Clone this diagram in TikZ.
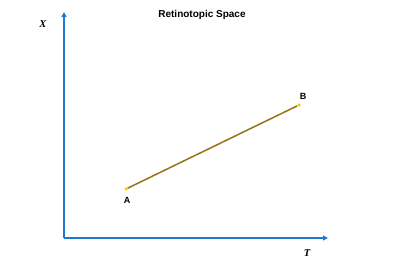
\documentclass[tikz,border=0pt]{standalone}
\usepackage{fontspec}
\setmainfont{Liberation Sans}
\newfontfamily\serifit{Liberation Serif}
\usetikzlibrary{arrows.meta}
\definecolor{axisblue}{RGB}{31,120,206}
\definecolor{lineolive}{RGB}{150,115,20}
\definecolor{dotyellow}{RGB}{255,192,0}
\begin{document}
\begin{tikzpicture}[x=1pt,y=-1pt,
  axis/.style={draw=axisblue,line width=2pt,-{Triangle[length=5pt,width=5pt]}},
  ptlabel/.style={font=\bfseries\fontsize{9}{10}\selectfont},
  axlabel/.style={font=\serifit\bfseries\itshape\fontsize{10.5}{12}\selectfont},
  dotc/.style={circle,fill=dotyellow,inner sep=0pt,minimum size=3.5pt}]
\useasboundingbox (0,0) rectangle (404,270);
\coordinate (O) at (64,238);
\coordinate (Ytop) at (64,12);
\coordinate (Xend) at (328,238);
\draw[axis] (O) -- (Ytop);
\draw[axis] (O) -- (Xend);
\node[axlabel] (xl) at (43,24) {X};
\node[axlabel] (tl) at (307,253) {T};
\node[font=\bfseries\fontsize{10}{12}\selectfont] (title) at (202,15) {Retinotopic Space};
\node[dotc] (A) at (126,189) {};
\node[dotc] (B) at (299,105) {};
\draw[lineolive,line width=1.5pt] (A) -- (B);
\node[ptlabel] (al) at (127,200) {A};
\node[ptlabel] (bl) at (303,96) {B};
\end{tikzpicture}
\end{document}
